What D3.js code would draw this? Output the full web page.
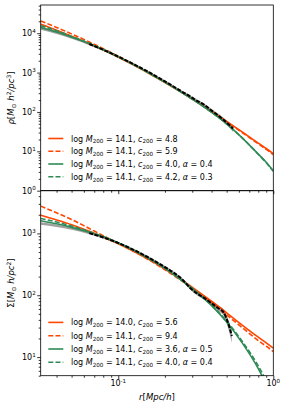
<!DOCTYPE html>
<html><head><meta charset="utf-8">
<script src="https://cdn.jsdelivr.net/npm/d3@7"></script>
<style>body{margin:0;background:#fff}text{font-family:"DejaVu Sans",sans-serif;fill:#000}</style>
</head><body><svg id="c" width="287" height="409"></svg>
<script>
// ---------- data ----------
const modelR = [0.0316,0.04,0.05,0.065,0.08,0.1,0.13,0.16,0.2,0.25,0.32,0.4,0.5,0.63,0.8,0.9,1.0];
// top panel: density
const rhoNFW1 = [17000,11950,8400,5400,3725,2439,1436,922,560,332,182,103,57.8,31.2,16.2,11.8,8.7];
const rhoNFW2 = [20500,14000,9600,6000,4050,2600,1500,950,570,333,180,101,56,30,15.5,11.2,8.2];
const rhoEin1 = [14000,10700,7900,5400,3800,2500,1480,950,570,335,180,98,50,22,8.5,5.3,3.2];
const rhoEin2 = [15500,11600,8300,5550,3850,2500,1470,945,568,334,180,98,50,22,8.4,5.1,3.1];
// bottom panel: surface density
const sigNFW1 = [1970,1650,1380,1080,870,680,490,370,265,185,120,80,52,33,21,17,14];
const sigNFW2 = [2760,2150,1680,1200,920,690,490,365,258,178,114,75,48,30,18.5,15,12.3];
const sigEin1 = [1600,1430,1250,1040,880,700,510,385,272,183,112,68,37,17,6.5,3.6,2.0];
const sigEin2 = [1745,1530,1310,1070,890,700,508,383,271,183,113,69,38,18,7.2,4.2,2.4];

const dataR = [0.0316,0.04,0.05,0.065,0.08,0.1,0.13,0.16,0.2,0.23,0.26,0.29,0.32,0.36,0.4,0.44,0.48,0.52,0.55];
const rhoMid = [13500,10400,7800,5300,3800,2550,1530,990,600,430,320,250,195,150,108,82,62,47,38];
const rhoLo  = [12200,9500,7200,4950,3580,2420,1460,945,572,408,302,234,181,138,98,73,54,40,31];
const rhoHi  = [14800,11300,8400,5650,4020,2680,1600,1035,628,452,338,266,209,162,118,91,70,54,45];
const dataR2 = [0.0316,0.04,0.05,0.065,0.08,0.1,0.13,0.16,0.2,0.23,0.26,0.29,0.32,0.36,0.4,0.44,0.48,0.51,0.54];
const sigMid = [1450,1330,1190,1010,860,700,520,395,285,228,178,132,108,90,74,62,52,36,22];
const sigLo  = [1380,1270,1140,970,828,674,500,379,273,218,169,124,101,84,68,56,46,30,17];
const sigHi  = [1520,1390,1240,1050,892,726,540,411,297,238,187,140,115,96,80,68,58,42,27];

const legendTop = [["14.1","4.8",null],["14.1","5.9",null],["14.1","4.0","0.4"],["14.1","4.2","0.3"]];
const legendBot = [["14.0","5.6",null],["14.1","9.4",null],["14.1","3.6","0.5"],["14.1","4.0","0.4"]];
const xTickVals = [0.1, 1];
const yTopTicks = [1,10,100,1000,10000];
const yBotTicks = [10,100,1000];

// ---------- layout ----------
const RED = "#ff4500", GREEN = "#2e8b57";
const svg = d3.select("#c");
const L = 40.7, R = 273.3;
const x = d3.scaleLog().domain([0.0316,1]).range([L,R]);
const yT = d3.scaleLog().domain([1,5.2e4]).range([190.7,5]);
const yB = d3.scaleLog().domain([5,4900]).range([375.7,190.7]);

const styles = [
  {c:RED, d:null},{c:RED, d:"5,2.2"},{c:GREEN, d:null},{c:GREEN, d:"5,2.2"}
];

function panel(id, y, models, dR, mid, lo, hi, blackMin, yticks, legend, legY) {
  const [y0,y1] = y.range();
  svg.append("clipPath").attr("id",id).append("rect")
    .attr("x",L).attr("y",y1).attr("width",R-L).attr("height",y0-y1);
  const g = svg.append("g").attr("clip-path",`url(#${id})`);
  const area = d3.area().x((d,i)=>x(dR[i])).y0((d,i)=>y(lo[i])).y1((d,i)=>y(hi[i])).curve(d3.curveMonotoneX);
  g.append("path").datum(mid).attr("d",area).attr("fill","#808080").attr("opacity",0.75);
  const line = (arr, rr) => d3.line().x((d,i)=>x(rr[i])).y(d=>y(d)).curve(d3.curveMonotoneX)(arr);
  models.forEach((m,k)=>{
    g.append("path").attr("d",line(m,modelR)).attr("fill","none")
      .attr("stroke",styles[k].c).attr("stroke-width",1.6)
      .attr("stroke-dasharray",styles[k].d);
  });
  const idx = dR.map((r,i)=>i).filter(i=>dR[i]>=blackMin);
  const bl = d3.line().x(i=>x(dR[i])).y(i=>y(mid[i])).curve(d3.curveMonotoneX);
  g.append("path").attr("d",bl(idx)).attr("fill","none").attr("stroke","#000")
    .attr("stroke-width",2).attr("stroke-dasharray","4,1.5");

  // frame
  svg.append("rect").attr("x",L).attr("y",y1).attr("width",R-L).attr("height",y0-y1)
    .attr("fill","none").attr("stroke","#000").attr("stroke-width",0.8);
  // y ticks
  const [dmin,dmax] = y.domain();
  const minors = [];
  for (let e=-1;e<6;e++) for (let m=2;m<10;m++){const v=m*Math.pow(10,e); if(v>=dmin&&v<=dmax) minors.push(v);}
  const ax = svg.append("g").attr("transform",`translate(${L},0)`);
  ax.call(d3.axisLeft(y).tickValues(yticks).tickSize(3.5).tickFormat(""));
  ax.append("g").call(d3.axisLeft(y).tickValues(minors).tickSize(2).tickFormat(""));
  ax.selectAll(".domain").remove();
  ax.selectAll("line").attr("stroke-width",0.8);
  yticks.forEach(v=>{
    const t = svg.append("text").attr("x",L-5).attr("y",y(v)+3).attr("text-anchor","end").attr("font-size",8);
    t.append("tspan").text("10");
    t.append("tspan").attr("font-size",5.6).attr("dy",-3.5).text(Math.round(Math.log10(v)));
  });
  // x ticks (both panels)
  const xminors=[];
  for (let e=-2;e<0;e++) for (let m=2;m<10;m++){const v=m*Math.pow(10,e); if(v>=0.0316&&v<=1) xminors.push(v);}
  const axx = svg.append("g").attr("transform",`translate(0,${y0})`);
  axx.call(d3.axisBottom(x).tickValues(xTickVals).tickSize(3.5).tickFormat(""));
  axx.append("g").call(d3.axisBottom(x).tickValues(xminors).tickSize(2).tickFormat(""));
  axx.selectAll(".domain").remove();
  axx.selectAll("line").attr("stroke-width",0.8);

  // legend
  legend.forEach((row,k)=>{
    const yy = legY[k];
    svg.append("line").attr("x1",48.3).attr("x2",63.3).attr("y1",yy).attr("y2",yy)
      .attr("stroke",styles[k].c).attr("stroke-width",1.6).attr("stroke-dasharray",styles[k].d);
    const t = svg.append("text").attr("x",71).attr("y",yy+3).attr("font-size",8);
    t.append("tspan").text("log ");
    t.append("tspan").attr("font-style","italic").text("M");
    t.append("tspan").attr("font-size",5.6).attr("dy",1.8).text("200");
    t.append("tspan").attr("dy",-1.8).text(` = ${row[0]}, `);
    t.append("tspan").attr("font-style","italic").text("c");
    t.append("tspan").attr("font-size",5.6).attr("dy",1.8).text("200");
    t.append("tspan").attr("dy",-1.8).text(` = ${row[1]}`);
    if (row[2]) {
      t.append("tspan").text(", ");
      t.append("tspan").attr("font-style","italic").text("α");
      t.append("tspan").text(` = ${row[2]}`);
    }
  });
}

panel("cpT", yT, [rhoNFW1,rhoNFW2,rhoEin1,rhoEin2], dataR, rhoMid, rhoLo, rhoHi, 0.065, yTopTicks, legendTop, [138.5,151.3,164,176.7]);
panel("cpB", yB, [sigNFW1,sigNFW2,sigEin1,sigEin2], dataR2, sigMid, sigLo, sigHi, 0.065, yBotTicks, legendBot, [322.4,335.7,349,362.3]);

// x tick labels (bottom only)
xTickVals.forEach(v=>{
  const t = svg.append("text").attr("x",x(v)).attr("y",386).attr("text-anchor","middle").attr("font-size",8);
  t.append("tspan").text("10");
  t.append("tspan").attr("font-size",5.6).attr("dy",-3.5).text(Math.round(Math.log10(v)));
});
// axis labels
const xl = svg.append("text").attr("x",(L+R)/2).attr("y",400).attr("text-anchor","middle").attr("font-size",8.5);
xl.append("tspan").attr("font-style","italic").text("r");
xl.append("tspan").text("[");
xl.append("tspan").attr("font-style","italic").text("Mpc/h");
xl.append("tspan").text("]");

const ylT = svg.append("text").attr("transform","translate(14,98) rotate(-90)").attr("text-anchor","middle").attr("font-size",8.5);
ylT.append("tspan").attr("font-style","italic").text("ρ");
ylT.append("tspan").text("[");
ylT.append("tspan").attr("font-style","italic").text("M");
ylT.append("tspan").attr("font-size",6).attr("dy",1.8).text("⊙");
ylT.append("tspan").attr("dy",-1.8).attr("font-style","italic").text(" h");
ylT.append("tspan").attr("font-size",6).attr("dy",-3.5).text("2");
ylT.append("tspan").attr("dy",3.5).attr("font-style","italic").text("/pc");
ylT.append("tspan").attr("font-size",6).attr("dy",-3.5).text("3");
ylT.append("tspan").attr("dy",3.5).text("]");

const ylB = svg.append("text").attr("transform","translate(14,283) rotate(-90)").attr("text-anchor","middle").attr("font-size",8.5);
ylB.append("tspan").text("Σ[");
ylB.append("tspan").attr("font-style","italic").text("M");
ylB.append("tspan").attr("font-size",6).attr("dy",1.8).text("⊙");
ylB.append("tspan").attr("dy",-1.8).attr("font-style","italic").text(" h/pc");
ylB.append("tspan").attr("font-size",6).attr("dy",-3.5).text("2");
ylB.append("tspan").attr("dy",3.5).text("]");
</script></body></html>
